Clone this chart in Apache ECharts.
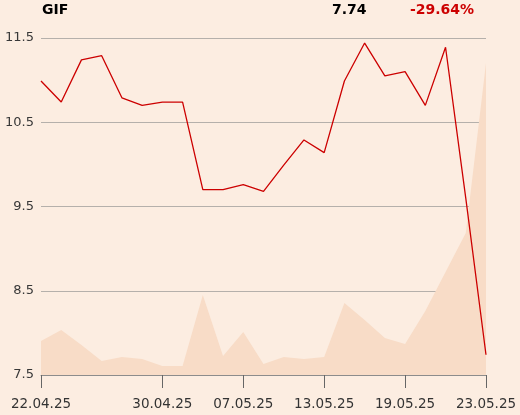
<!DOCTYPE html>
<html><head><meta charset="utf-8">
<script src="https://cdn.jsdelivr.net/npm/echarts@6/dist/echarts.min.js"></script>
<style>html,body{margin:0;padding:0;background:#fcede1;}#c{width:520px;height:415px;}</style>
</head><body><div id="c"></div>
<script>
const dates = ['22.04.25','23.04.25','24.04.25','25.04.25','28.04.25','29.04.25','30.04.25','02.05.25','05.05.25','06.05.25','07.05.25','08.05.25','09.05.25','12.05.25','13.05.25','14.05.25','15.05.25','16.05.25','19.05.25','20.05.25','21.05.25','22.05.25','23.05.25'];
const labelIdx = [0,6,10,14,18,22];
const price = [10.99,10.74,11.24,11.29,10.79,10.70,10.74,10.74,9.70,9.70,9.76,9.68,9.99,10.29,10.14,10.99,11.44,11.05,11.10,10.70,11.39,9.60,7.74];
const volume = [34,45,30,14,18,16,9,9,80,19,43,11,18,16,18,72,55,37,31,64,103,142,312];
const yTicks = [7.5,8.5,9.5,10.5,11.5];
const BASE = 7.5;
const title = 'GIF', lastVal = '7.74', change = '-29.64%';

const chart = echarts.init(document.getElementById('c'));
const font = 'DejaVu Sans';
chart.setOption({
  backgroundColor: '#fcede1',
  animation: false,
  textStyle: {fontFamily: font},
  graphic: [
    {type:'text', left: 42, top: 3, style:{text:title, font:'bold 14px DejaVu Sans', fill:'#000'}},
    {type:'text', left: 332, top: 3, style:{text:lastVal, font:'bold 14px DejaVu Sans', fill:'#000'}},
    {type:'text', left: 410, top: 3, style:{text:change, font:'bold 14px DejaVu Sans', fill:'#cc0000'}}
  ],
  grid: {left: 41, right: 34, top: 38, bottom: 40},
  xAxis: {
    type: 'category', data: dates, boundaryGap: false,
    axisLine: {lineStyle: {color: '#8c8c8c', width: 1}},
    axisTick: {length: 13, lineStyle: {color: '#666'}, interval: (i) => labelIdx.includes(i)},
    axisLabel: {interval: (i) => labelIdx.includes(i), color: '#333', fontSize: 13.5, margin: 22, fontFamily: font},
    splitLine: {show: false}
  },
  yAxis: [
    {type: 'value', min: 0, max: yTicks[yTicks.length-1]-BASE, interval: 1,
     axisLabel: {formatter: v => (v + BASE).toFixed(1), color: '#383838', fontSize: 13, margin: 7, fontFamily: font},
     axisLine: {show: false}, axisTick: {show: false},
     splitLine: {lineStyle: {color: '#b5b0ab', width: 1}}},
    {type: 'value', min: 0, max: 337, show: false, splitLine: {show: false}}
  ],
  series: [
    {type: 'line', yAxisIndex: 1, data: volume, symbol: 'none', lineStyle: {width: 0}, areaStyle: {color: '#f8dcc7', opacity: 1}, z: 1},
    {type: 'line', yAxisIndex: 0, data: price.map(v => +(v - BASE).toFixed(4)), symbol: 'none', lineStyle: {color: '#cc0000', width: 1.3}, z: 3}
  ]
});
</script></body></html>
